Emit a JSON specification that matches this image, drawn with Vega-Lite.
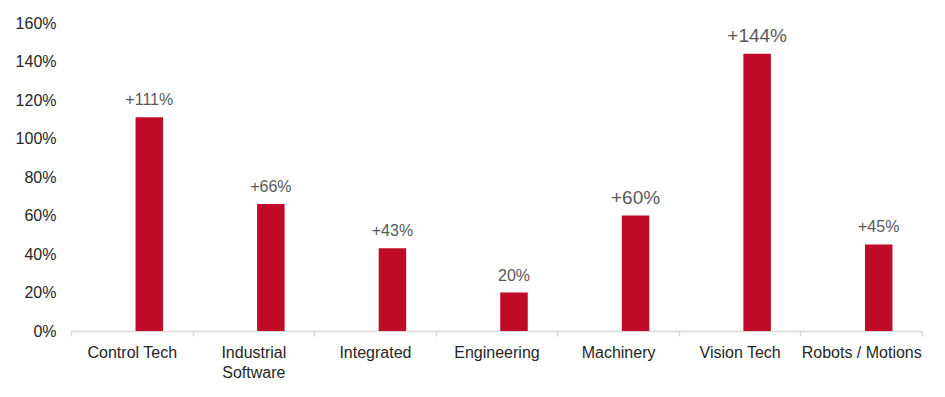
{
  "$schema": "https://vega.github.io/schema/vega-lite/v6.json",
  "width": 851,
  "height": 308,
  "autosize": {"type": "none"},
  "padding": {"left": 71, "top": 23, "right": 23, "bottom": 66},
  "background": "white",
  "config": {
    "view": {"stroke": null},
    "font": "Liberation Sans"
  },
  "data": {
    "values": [
      {"category": "Control Tech", "value": 111, "label": "+111%"},
      {"category": "Industrial Software", "value": 66, "label": "+66%"},
      {"category": "Integrated", "value": 43, "label": "+43%"},
      {"category": "Engineering", "value": 20, "label": "20%"},
      {"category": "Machinery", "value": 60, "label": "+60%"},
      {"category": "Vision Tech", "value": 144, "label": "+144%"},
      {"category": "Robots / Motions", "value": 45, "label": "+45%"}
    ]
  },
  "encoding": {
    "x": {
      "field": "category",
      "type": "nominal",
      "sort": null,
      "title": null,
      "scale": {"paddingInner": 0, "paddingOuter": 0},
      "axis": {
        "labelAngle": 0,
        "labelFontSize": 16,
        "labelColor": "#262626",
        "labelFont": "Liberation Sans",
        "labelPadding": 8,
        "labelLineHeight": 20,
        "labelExpr": "datum.label == 'Industrial Software' ? ['Industrial', 'Software'] : datum.label",
        "domainColor": "#d9d9d9",
        "domainWidth": 1.5,
        "tickColor": "#d9d9d9",
        "tickWidth": 1.5,
        "tickSize": 5,
        "tickBand": "extent",
        "labelLimit": 200
      }
    },
    "y": {
      "field": "value",
      "type": "quantitative",
      "title": null,
      "scale": {"domain": [0, 160], "nice": false},
      "axis": {
        "values": [0, 20, 40, 60, 80, 100, 120, 140, 160],
        "labelExpr": "datum.value + '%'",
        "labelFontSize": 16,
        "labelColor": "#262626",
        "labelFont": "Liberation Sans",
        "labelPadding": 15,
        "domain": false,
        "ticks": false,
        "grid": false
      }
    }
  },
  "layer": [
    {
      "mark": {"type": "bar", "color": "#BF0A28", "width": 27.5, "xOffset": 17.5}
    },
    {
      "mark": {"type": "text", "baseline": "alphabetic", "align": "center", "dy": -12, "xOffset": 17.5, "color": "#595959", "font": "Liberation Sans"},
      "encoding": {
        "text": {"field": "label"},
        "size": {
          "condition": {"test": "datum.category == 'Machinery' || datum.category == 'Vision Tech'", "value": 19},
          "value": 16
        }
      }
    }
  ]
}
